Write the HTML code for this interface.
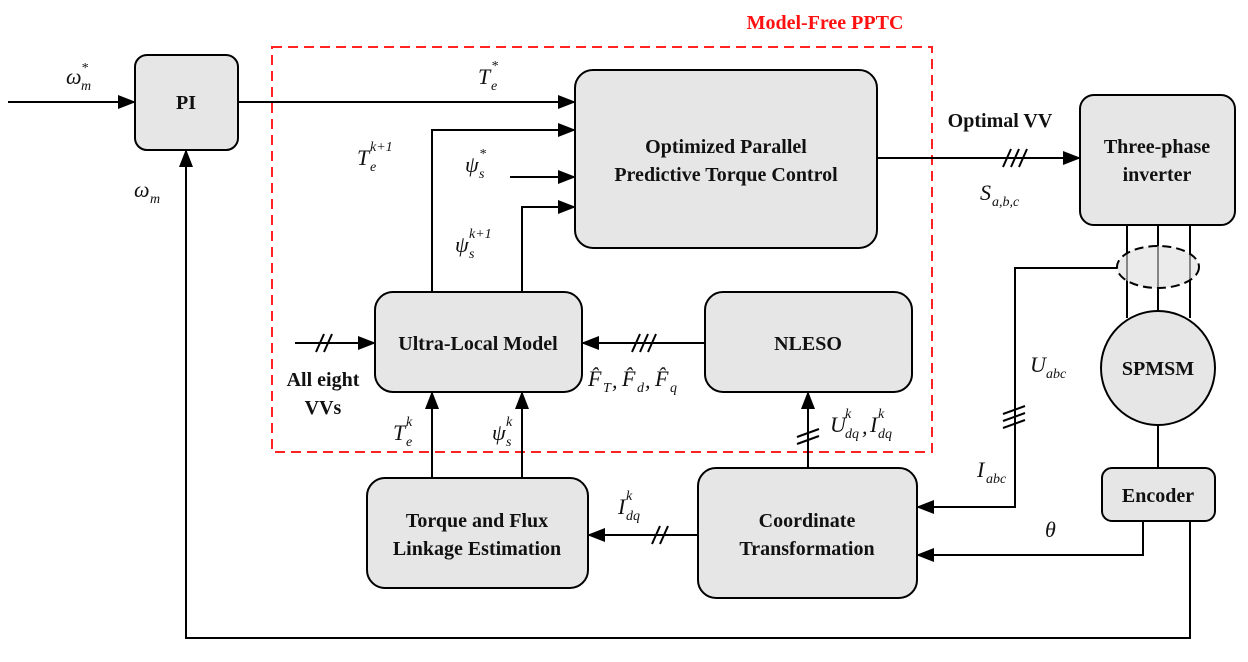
<!DOCTYPE html>
<html><head><meta charset="utf-8"><style>
body{margin:0;background:#fff}
svg{display:block}
.b{font-family:"Liberation Serif",serif;font-weight:bold;font-size:20px;fill:#111}
.m{font-family:"Liberation Serif",serif;font-style:italic;font-size:22px;fill:#111}
.s{font-family:"Liberation Serif",serif;font-style:italic;font-size:14px;fill:#111}
</style></head><body>
<svg width="1248" height="662" viewBox="0 0 1248 662" xmlns="http://www.w3.org/2000/svg">
<defs><marker id="a" markerWidth="18" markerHeight="14" refX="17" refY="7" orient="auto" markerUnits="userSpaceOnUse"><path d="M0,0 L18,7 L0,14 z" fill="#000"/></marker></defs>
<g fill="#e6e6e6" stroke="#000" stroke-width="2">
<rect x="135" y="55" width="103" height="95" rx="12"/>
<rect x="575" y="70" width="302" height="178" rx="18"/>
<rect x="1080" y="95" width="155" height="130" rx="14"/>
<rect x="375" y="292" width="207" height="100" rx="18"/>
<rect x="705" y="292" width="207" height="100" rx="18"/>
<rect x="367" y="478" width="221" height="110" rx="18"/>
<rect x="698" y="468" width="219" height="130" rx="18"/>
<rect x="1102" y="468" width="113" height="53" rx="10"/>
<circle cx="1158" cy="368" r="57"/>
</g>
<rect x="272" y="47" width="660" height="405" fill="none" stroke="#f22" stroke-width="2" stroke-dasharray="10,6"/>
<text x="825" y="29" text-anchor="middle" class="b" style="fill:#f11">Model-Free PPTC</text>
<g stroke="#000" stroke-width="2" fill="none">
<line x1="8" y1="102" x2="135" y2="102" marker-end="url(#a)"/>
<line x1="238" y1="102" x2="575" y2="102" marker-end="url(#a)"/>
<polyline points="432,292 432,130 575,130" marker-end="url(#a)"/>
<line x1="510" y1="177" x2="575" y2="177" marker-end="url(#a)"/>
<polyline points="522,292 522,207 575,207" marker-end="url(#a)"/>
<line x1="877" y1="158" x2="1080" y2="158" marker-end="url(#a)"/>
<line x1="1127" y1="225" x2="1127" y2="318"/>
<line x1="1158" y1="225" x2="1158" y2="311"/>
<line x1="1190" y1="225" x2="1190" y2="318"/>
<polyline points="1117,268 1015,268 1015,507 917,507" marker-end="url(#a)"/>
<line x1="1158" y1="425" x2="1158" y2="468"/>
<polyline points="1143,521 1143,555 917,555" marker-end="url(#a)"/>
<polyline points="1190,521 1190,638 186,638 186,150" marker-end="url(#a)"/>
<line x1="705" y1="343" x2="582" y2="343" marker-end="url(#a)"/>
<line x1="295" y1="343" x2="375" y2="343" marker-end="url(#a)"/>
<line x1="432" y1="478" x2="432" y2="392" marker-end="url(#a)"/>
<line x1="522" y1="478" x2="522" y2="392" marker-end="url(#a)"/>
<line x1="698" y1="535" x2="588" y2="535" marker-end="url(#a)"/>
<line x1="808" y1="468" x2="808" y2="392" marker-end="url(#a)"/>
<path d="M1003,167 l8,-18 M1011,167 l8,-18 M1019,167 l8,-18"/>
<path d="M316,352 l8,-18 M324,352 l8,-18"/>
<path d="M632,352 l8,-18 M640,352 l8,-18 M648,352 l8,-18"/>
<path d="M652,544 l8,-18 M660,544 l8,-18"/>
<path d="M1003,414 l22,-8 M1003,421 l22,-8 M1003,428 l22,-8"/>
<path d="M797,437 l22,-8 M797,444 l22,-8"/>
</g>
<ellipse cx="1158" cy="267" rx="41" ry="21" fill="#ddd" fill-opacity="0.6" stroke="#000" stroke-width="2" stroke-dasharray="9,5"/>
<g class="b" text-anchor="middle">
<text x="186" y="109">PI</text>
<text x="726" y="153">Optimized Parallel</text>
<text x="726" y="181">Predictive Torque Control</text>
<text x="1157" y="153">Three-phase</text>
<text x="1157" y="181">inverter</text>
<text x="1158" y="375">SPMSM</text>
<text x="1158" y="502">Encoder</text>
<text x="478" y="350">Ultra-Local Model</text>
<text x="808" y="350">NLESO</text>
<text x="477" y="527">Torque and Flux</text>
<text x="477" y="555">Linkage Estimation</text>
<text x="807" y="527">Coordinate</text>
<text x="807" y="555">Transformation</text>
<text x="1000" y="127">Optimal VV</text>
<text x="323" y="386">All eight</text>
<text x="323" y="414">VVs</text>
</g>
<g class="m">
<text x="66" y="84">ω</text>
<text x="478" y="84">T</text>
<text x="357" y="165">T</text>
<text x="465" y="172">ψ</text>
<text x="455" y="252">ψ</text>
<text x="134" y="197">ω</text>
<text x="980" y="200">S</text>
<text x="1030" y="372">U</text>
<text x="977" y="477">I</text>
<text x="1045" y="537">θ</text>
<text x="393" y="440">T</text>
<text x="492" y="440">ψ</text>
<text x="588" y="386">F̂</text>
<text x="612" y="388">,</text>
<text x="622" y="386">F̂</text>
<text x="645" y="388">,</text>
<text x="655" y="386">F̂</text>
<text x="830" y="432">U</text>
<text x="862" y="434">,</text>
<text x="870" y="432">I</text>
<text x="618" y="514">I</text>
</g>
<g class="s">
<text x="81" y="90">m</text><text x="81" y="72">*</text>
<text x="491" y="90">e</text><text x="491" y="70">*</text>
<text x="370" y="171">e</text><text x="370" y="151">k+1</text>
<text x="479" y="178">s</text><text x="479" y="158">*</text>
<text x="469" y="258">s</text><text x="469" y="238">k+1</text>
<text x="150" y="203">m</text>
<text x="992" y="206">a,b,c</text>
<text x="1046" y="378">abc</text>
<text x="986" y="483">abc</text>
<text x="406" y="446">e</text><text x="406" y="426">k</text>
<text x="506" y="446">s</text><text x="506" y="426">k</text>
<text x="603" y="392">T</text>
<text x="637" y="392">d</text>
<text x="670" y="392">q</text>
<text x="845" y="438">dq</text><text x="845" y="418">k</text>
<text x="878" y="438">dq</text><text x="878" y="418">k</text>
<text x="626" y="520">dq</text><text x="626" y="500">k</text>
</g>
</svg>
</body></html>
